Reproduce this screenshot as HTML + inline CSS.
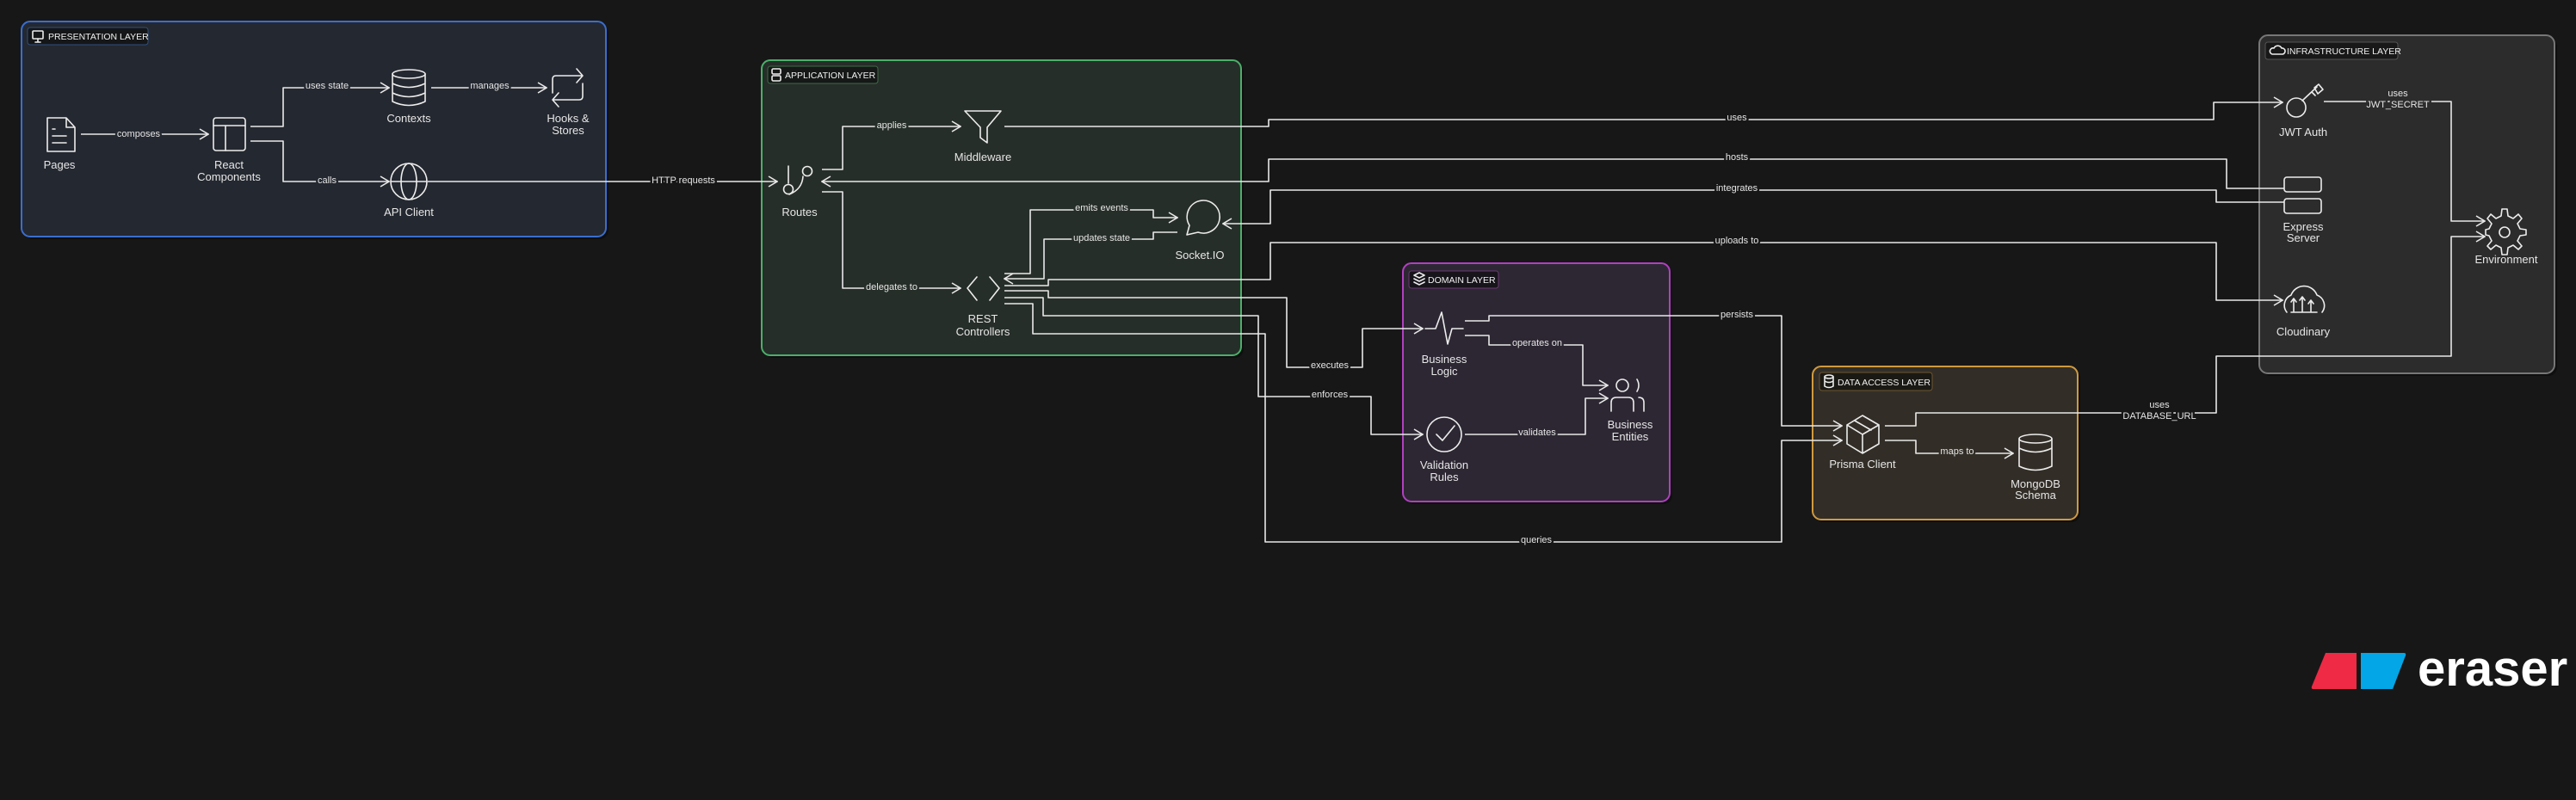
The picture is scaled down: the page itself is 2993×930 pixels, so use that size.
<!DOCTYPE html>
<html><head><meta charset="utf-8"><style>
html,body{margin:0;padding:0;background:#171717;}
svg{display:block;}
text{font-family:"Liberation Sans",sans-serif;fill:#e6e6e6;}
.n{font-size:13px;text-anchor:middle;}
.e{font-size:11px;text-anchor:middle;dominant-baseline:middle;paint-order:stroke;stroke-width:5px;stroke-linejoin:round;}
.t{font-size:10.5px;font-weight:normal;fill:#f0f0f0;}
.c{fill:none;stroke:#e8e8e8;stroke-width:1.6;stroke-linejoin:round;}
.i{fill:none;stroke:#ececec;stroke-width:1.6;stroke-linejoin:round;stroke-linecap:round;}
</style></head><body>
<svg width="2993" height="930" viewBox="0 0 2993 930" xmlns="http://www.w3.org/2000/svg">
<defs>
<marker id="a" markerWidth="12" markerHeight="14" refX="11" refY="7" orient="auto" markerUnits="userSpaceOnUse">
<path d="M1,1 L11,7 L1,13" fill="none" stroke="#e8e8e8" stroke-width="1.6"/>
</marker>
</defs>
<rect width="2993" height="930" fill="#171717"/>

<rect x="28" y="28" width="679" height="250" rx="10" fill="#0f0f0f"/>
<rect x="25" y="25" width="679" height="250" rx="10" fill="#242830" stroke="#3a6ecf" stroke-width="2"/>
<rect x="888" y="73" width="557" height="343" rx="10" fill="#0f0f0f"/>
<rect x="885" y="70" width="557" height="343" rx="10" fill="#262e29" stroke="#4caf6a" stroke-width="2"/>
<rect x="1633" y="309" width="310" height="277" rx="10" fill="#0f0f0f"/>
<rect x="1630" y="306" width="310" height="277" rx="10" fill="#2d2733" stroke="#b040c0" stroke-width="2"/>
<rect x="2109" y="429" width="308" height="178" rx="10" fill="#0f0f0f"/>
<rect x="2106" y="426" width="308" height="178" rx="10" fill="#322e27" stroke="#d09a40" stroke-width="2"/>
<rect x="2628" y="44" width="343" height="393" rx="10" fill="#0f0f0f"/>
<rect x="2625" y="41" width="343" height="393" rx="10" fill="#2c2c2c" stroke="#777" stroke-width="2"/>

<rect x="32" y="32" width="140" height="20" rx="3" fill="#151618" stroke="#2f4f80"/>
<rect x="38" y="36" width="12" height="9" rx="1" class="i" stroke-width="1.2"/><path d="M44,45 V49 M41,49 H47" class="i" stroke-width="1.2"/>
<text x="56" y="46" class="t">PRESENTATION LAYER</text>
<rect x="892" y="77" width="128" height="20" rx="3" fill="#151816" stroke="#3d6b48"/>
<rect x="897" y="80" width="10" height="6" rx="1.5" class="i" stroke-width="1.2"/><rect x="897" y="88" width="10" height="6" rx="1.5" class="i" stroke-width="1.2"/>
<text x="912" y="91" class="t">APPLICATION LAYER</text>
<rect x="1637" y="315" width="104" height="20" rx="3" fill="#18141b" stroke="#6a3a74"/>
<path d="M1643,320 L1649,317 L1655,320 L1649,323 Z M1643,324 L1649,327 L1655,324 M1643,328 L1649,331 L1655,328" class="i" stroke-width="1.1"/>
<text x="1659" y="329" class="t">DOMAIN LAYER</text>
<rect x="2114" y="433" width="131" height="21" rx="3" fill="#1b1914" stroke="#6e5630"/>
<ellipse cx="2125" cy="438" rx="5" ry="2" class="i" stroke-width="1.1"/><path d="M2120,438 V449 Q2125,452 2130,449 V438 M2120,443 Q2125,446 2130,443" class="i" stroke-width="1.1"/>
<text x="2135" y="448" class="t">DATA ACCESS LAYER</text>
<rect x="2632" y="49" width="154" height="20" rx="3" fill="#181818" stroke="#555"/>
<path d="M2640,63 H2652 A3.5,3.5 0 0 0 2651,56 A5,5 0 0 0 2642,56 A3.5,3.5 0 0 0 2640,63 Z" class="i" stroke-width="1.1"/>
<text x="2657" y="63" class="t">INFRASTRUCTURE LAYER</text>

<g class="c">
<polyline points="94,156 242,156" marker-end="url(#a)"/>
<polyline points="291,147 329,147 329,102 452,102" marker-end="url(#a)"/>
<polyline points="291,164 329,164 329,211 452,211" marker-end="url(#a)"/>
<polyline points="501,102 635,102" marker-end="url(#a)"/>
<polyline points="497,211 903,211" marker-end="url(#a)"/>
<polyline points="955,197 979,197 979,147 1116,147" marker-end="url(#a)"/>
<polyline points="955,223 979,223 979,335 1116,335" marker-end="url(#a)"/>
<polyline points="1167,147 1474,147 1474,139 2572,139 2572,119 2652,119" marker-end="url(#a)"/>
<polyline points="2654,219 2587,219 2587,185 1474,185 1474,211 955,211" marker-end="url(#a)"/>
<polyline points="2654,235 2575,235 2575,221 1476,221 1476,260 1421,260" marker-end="url(#a)"/>
<polyline points="1167,318 1197,318 1197,244 1340,244 1340,253 1368,253" marker-end="url(#a)"/>
<polyline points="1368,270 1340,270 1340,278 1213,278 1213,324 1167,324" marker-end="url(#a)"/>
<polyline points="1167,332 1218,332 1218,325 1476,325 1476,282 2575,282 2575,349 2652,349" marker-end="url(#a)"/>
<polyline points="1167,338 1218,338 1218,346 1495,346 1495,427 1583,427 1583,382 1653,382" marker-end="url(#a)"/>
<polyline points="1167,346 1212,346 1212,367 1462,367 1462,461 1593,461 1593,505 1653,505" marker-end="url(#a)"/>
<polyline points="1167,353 1200,353 1200,388 1470,388 1470,630 2070,630 2070,512 2140,512" marker-end="url(#a)"/>
<polyline points="1702,390 1730,390 1730,401 1839,401 1839,448 1868,448" marker-end="url(#a)"/>
<polyline points="1702,505 1842,505 1842,463 1868,463" marker-end="url(#a)"/>
<polyline points="1702,373 1730,373 1730,367 2070,367 2070,495 2140,495" marker-end="url(#a)"/>
<polyline points="2190,512 2226,512 2226,527 2339,527" marker-end="url(#a)"/>
<polyline points="2190,495 2226,495 2226,480 2575,480 2575,414 2848,414 2848,275 2887,275" marker-end="url(#a)"/>
<polyline points="2700,118 2848,118 2848,257 2887,257" marker-end="url(#a)"/>
</g>

<g>
<text x="161" y="156" class="e" stroke="#242830">composes</text>
<text x="380" y="100" class="e" stroke="#242830">uses state</text>
<text x="380" y="210" class="e" stroke="#242830">calls</text>
<text x="569" y="100" class="e" stroke="#242830">manages</text>
<text x="794" y="210" class="e" stroke="#171717">HTTP requests</text>
<text x="1036" y="146" class="e" stroke="#262e29">applies</text>
<text x="1036" y="334" class="e" stroke="#262e29">delegates to</text>
<text x="1280" y="242" class="e" stroke="#262e29">emits events</text>
<text x="1280" y="277" class="e" stroke="#262e29">updates state</text>
<text x="2018" y="137" class="e" stroke="#171717">uses</text>
<text x="2018" y="183" class="e" stroke="#171717">hosts</text>
<text x="2018" y="219" class="e" stroke="#171717">integrates</text>
<text x="2018" y="280" class="e" stroke="#171717">uploads to</text>
<text x="2018" y="366" class="e" stroke="#171717">persists</text>
<text x="1545" y="425" class="e" stroke="#171717">executes</text>
<text x="1545" y="459" class="e" stroke="#171717">enforces</text>
<text x="1785" y="628" class="e" stroke="#171717">queries</text>
<text x="1786" y="399" class="e" stroke="#2d2733">operates on</text>
<text x="1786" y="503" class="e" stroke="#2d2733">validates</text>
<text x="2274" y="525" class="e" stroke="#322e27">maps to</text>
<text x="2509" y="471" class="e" stroke="#171717">uses</text>
<text x="2509" y="484" class="e" stroke="#171717">DATABASE_URL</text>
<text x="2786" y="109" class="e" stroke="#2c2c2c">uses</text>
<text x="2786" y="122" class="e" stroke="#2c2c2c">JWT_SECRET</text>
</g>

<path d="M55,137 H77 L87,148 V176 H55 Z M77,137 V148 H87" class="i"/>
<path d="M61,150 H64 M61,158 H77 M61,166 H77" class="i"/>
<rect x="248" y="137" width="37" height="38" rx="3" class="i"/><path d="M248,146 H285 M262,146 V175" class="i"/>
<ellipse cx="475" cy="86" rx="19" ry="5" class="i"/><path d="M456,86 V118 Q475,127 494,118 V86 M456,97 Q475,106 494,97 M456,108 Q475,117 494,108" class="i"/>
<path d="M642,108 V92 Q642,88 646,88 H677 M670,80 L677,88 L670,96" class="i"/>
<path d="M677,97 V112 Q677,116 673,116 H642 M649,108 L642,116 L649,124" class="i"/>
<circle cx="475" cy="211" r="21" class="i"/><ellipse cx="475" cy="211" rx="9" ry="21" class="i"/><path d="M454,211 H496" class="i"/>
<path d="M916,193 V213 M917,226 Q932,220 933,205" class="i"/><circle cx="916" cy="220" r="5.5" class="i"/><circle cx="938" cy="199" r="5.5" class="i"/>
<path d="M1121,129 H1163 L1147,148 V166 L1139,160 V148 Z" class="i"/>
<path d="M1135,322 L1124,335 L1135,349 M1150,322 L1161,335 L1150,349" class="i"/>
<path d="M1379,273 L1382,262 A19,19 0 1 1 1392,270 Z" class="i"/>
<path d="M1656,382 H1668 L1675,363 L1682,400 L1687,382 H1700" class="i"/>
<circle cx="1678" cy="505" r="20" class="i"/><path d="M1669,505 L1676,512 L1690,495" class="i"/>
<circle cx="1885" cy="448" r="7" class="i"/><path d="M1902,441 Q1906,448 1902,455" class="i"/>
<path d="M1872,478 V468 Q1872,462 1878,462 H1892 Q1898,462 1898,468 V478 M1904,462 Q1910,462 1910,468 V478" class="i"/>
<path d="M2164,483 L2183,494 V516 L2164,527 L2146,516 V494 Z M2146,494 L2164,505 L2183,494 M2164,505 V527 M2155,489 L2174,500" class="i"/>
<ellipse cx="2365" cy="510" rx="19" ry="5" class="i"/><path d="M2346,510 V542 Q2365,551 2384,542 V510 M2346,521 Q2365,530 2384,521" class="i"/>
<circle cx="2668" cy="125" r="11" class="i"/><path d="M2675,117 L2692,101 M2686,107 L2690,111 M2689,102 L2694,98 L2699,104 L2693,109 Z" class="i"/>
<rect x="2654" y="206" width="43" height="17" rx="3" class="i"/><rect x="2654" y="231" width="43" height="17" rx="3" class="i"/>
<path d="M2657,363 A13,13 0 0 1 2662,343 A16,16 0 0 1 2692,343 A13,13 0 0 1 2698,363" class="i"/>
<path d="M2665,362 V348 M2662,351 L2665,347 L2668,351 M2675,362 V346 M2672,349 L2675,345 L2678,349 M2685,362 V350 M2682,353 L2685,349 L2688,353 M2662,363 H2692" class="i" stroke-width="2.2"/>
<path d="M2907,243 L2913,243 L2914,251 L2920,254 L2926,249 L2930,254 L2925,260 L2928,266 L2935,267 L2935,273 L2928,274 L2925,280 L2930,286 L2926,290 L2920,285 L2914,288 L2913,296 L2907,296 L2906,288 L2900,285 L2894,290 L2890,286 L2895,280 L2892,274 L2888,273 L2888,267 L2892,266 L2895,260 L2890,254 L2894,249 L2900,254 L2906,251 Z" class="i"/>
<circle cx="2910" cy="270" r="6" class="i"/>

<text x="69" y="196" class="n">Pages</text>
<text x="266" y="196" class="n">React</text><text x="266" y="210" class="n">Components</text>
<text x="475" y="142" class="n">Contexts</text>
<text x="660" y="142" class="n">Hooks &amp;</text><text x="660" y="156" class="n">Stores</text>
<text x="475" y="251" class="n">API Client</text>
<text x="929" y="251" class="n">Routes</text>
<text x="1142" y="187" class="n">Middleware</text>
<text x="1142" y="375" class="n">REST</text><text x="1142" y="390" class="n">Controllers</text>
<text x="1394" y="301" class="n">Socket.IO</text>
<text x="1678" y="422" class="n">Business</text><text x="1678" y="436" class="n">Logic</text>
<text x="1678" y="545" class="n">Validation</text><text x="1678" y="559" class="n">Rules</text>
<text x="1894" y="498" class="n">Business</text><text x="1894" y="512" class="n">Entities</text>
<text x="2164" y="544" class="n">Prisma Client</text>
<text x="2365" y="567" class="n">MongoDB</text><text x="2365" y="580" class="n">Schema</text>
<text x="2676" y="158" class="n">JWT Auth</text>
<text x="2676" y="268" class="n">Express</text><text x="2676" y="281" class="n">Server</text>
<text x="2676" y="390" class="n">Cloudinary</text>
<text x="2912" y="306" class="n">Environment</text>

<path d="M2702,759 H2738 V801 H2688 Q2685,801 2686,798 Z" fill="#ee2a45"/>
<path d="M2743,759 H2793 Q2796,759 2795,762 L2780,801 H2743 Z" fill="#03a6e6"/>
<text x="2809" y="797" style="font-size:58px;font-weight:bold;fill:#ffffff;">eraser</text>
</svg>
</body></html>
